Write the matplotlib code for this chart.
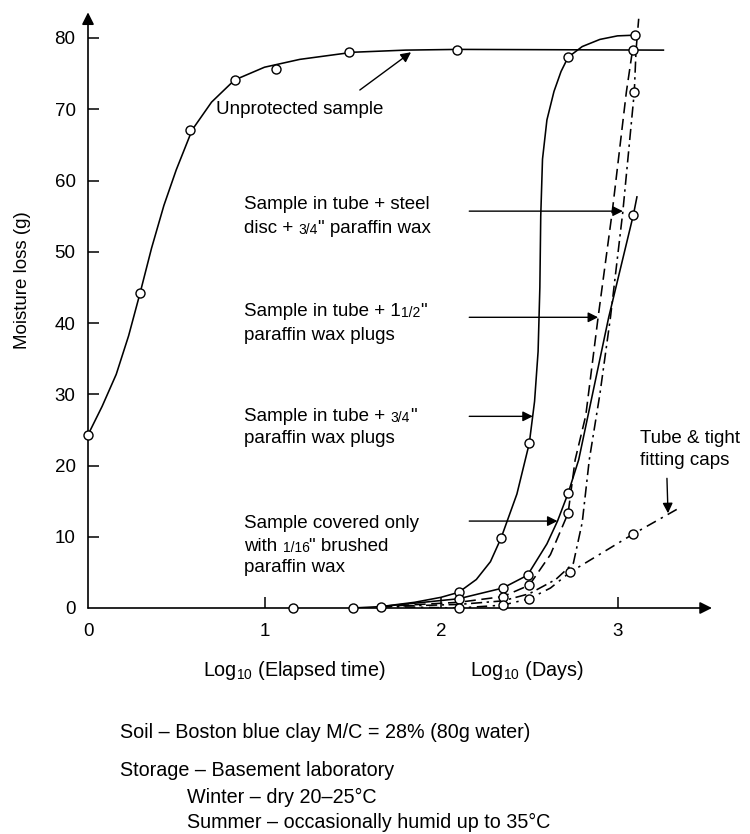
import matplotlib
matplotlib.use('Agg')
from matplotlib import pyplot as plt

plt.rcParams['font.family'] = ['Liberation Sans', 'DejaVu Sans']
plt.rcParams['mathtext.fontset'] = 'custom'
plt.rcParams['mathtext.rm'] = 'Liberation Sans'
plt.rcParams['mathtext.default'] = 'regular'

# Values: x = log10(days), y = moisture loss (g)
# curve paths and the plotted circles
unprot_x = [0, 0.08, 0.16, 0.23, 0.295, 0.36, 0.43, 0.5, 0.59, 0.7, 0.83, 1.0, 1.2, 1.5, 1.8, 2.1, 3.26]
unprot_y = [24.3, 28.3, 32.8, 38.2, 44.2, 50.5, 56.5, 61.5, 67.1, 71.0, 74.1, 75.9, 77.0, 78.0, 78.3, 78.4, 78.3]
unprot_px = [0, 0.295, 0.58, 0.83, 1.065, 1.48, 2.09]
unprot_py = [24.3, 44.2, 67.1, 74.1, 75.6, 78.0, 78.3]

shared_px = [1.16, 1.5, 1.66]
shared_py = [0, 0, 0.2]

# sample in tube + 3/4" paraffin wax plugs
plug34_x = [1.5, 1.66, 1.85, 2.0, 2.1, 2.2, 2.28, 2.34, 2.43, 2.5, 2.53, 2.55, 2.56, 2.565, 2.575, 2.6, 2.64, 2.68, 2.72, 2.8, 2.9, 3.0, 3.1]
plug34_y = [0, 0.2, 0.8, 1.5, 2.2, 4.0, 6.5, 9.8, 16.0, 23.1, 29.0, 36.0, 45.0, 55.0, 63.0, 68.5, 72.5, 75.3, 77.3, 78.8, 79.8, 80.3, 80.4]
plug34_px = [2.1, 2.34, 2.5, 2.72, 3.1]
plug34_py = [2.2, 9.8, 23.1, 77.3, 80.4]

# sample covered only with 1/16" brushed paraffin wax
brush_x = [1.66, 2.1, 2.35, 2.49, 2.6, 2.66, 2.72, 2.78, 2.95, 3.09, 3.11]
brush_y = [0.2, 1.3, 2.8, 4.6, 9.0, 12.2, 16.1, 20.8, 40.8, 55.2, 57.7]
brush_px = [2.1, 2.35, 2.49, 2.72, 3.09]
brush_py = [1.3, 2.8, 4.6, 16.1, 55.2]

# sample in tube + 1 1/2" paraffin wax plugs
plug112_x = [1.66, 2.1, 2.35, 2.5, 2.62, 2.72, 2.76, 2.82, 2.89, 2.97, 3.05, 3.085]
plug112_y = [0.2, 0.8, 1.6, 3.2, 7.5, 13.3, 20.8, 27.0, 40.8, 55.6, 72.4, 78.3]
plug112_px = [2.35, 2.5, 2.72, 3.085]
plug112_py = [1.6, 3.2, 13.3, 78.3]

# sample in tube + steel disc + 3/4" paraffin wax
disc_x = [1.66, 2.1, 2.35, 2.5, 2.65, 2.75, 2.8, 2.84, 2.9, 2.96, 3.03, 3.095, 3.105, 3.12]
disc_y = [0.2, 0.5, 1.0, 2.0, 4.0, 6.3, 12.0, 20.8, 30.0, 40.8, 55.6, 72.4, 78.3, 82.7]
disc_px = [3.095]
disc_py = [72.4]

# tube & tight fitting caps
caps_x = [1.66, 2.1, 2.35, 2.5, 2.62, 2.73, 3.09, 3.34]
caps_y = [0.2, 0.0, 0.4, 1.3, 2.8, 5.0, 10.4, 13.9]
caps_px = [2.1, 2.35, 2.5, 2.73, 3.09]
caps_py = [0.0, 0.4, 1.3, 5.0, 10.4]

fs = 13.5
fs_note = 14.2
lw = 1.15
mk = dict(marker='o', ls='none', ms=6.5, mfc='white', mec='black', mew=1.0, zorder=5, clip_on=False)

fig = plt.figure(figsize=(7.5, 8.34), dpi=100)
ax = fig.add_axes([88/750, 226/834, 626.6/750, 598.5/834])
ax.set_xlim(0, 3.55)
ax.set_ylim(0, 84)
for s in ax.spines.values():
    s.set_visible(False)

ax.plot(unprot_x, unprot_y, 'k-', lw=lw, clip_on=False)
ax.plot(plug34_x, plug34_y, 'k-', lw=lw)
ax.plot(brush_x, brush_y, 'k-', lw=lw)
ax.plot(plug112_x, plug112_y, 'k', lw=lw, dashes=(7, 3.5))
ax.plot(disc_x, disc_y, 'k', lw=lw, dashes=(7, 2.8, 1.5, 2.8), clip_on=False)
ax.plot(caps_x, caps_y, 'k', lw=lw, dashes=(6.5, 3.5, 1.5, 3.5))

for px, py in [(unprot_px, unprot_py), (shared_px, shared_py), (plug34_px, plug34_py),
               (brush_px, brush_py), (plug112_px, plug112_py), (disc_px, disc_py),
               (caps_px, caps_py)]:
    ax.plot(px, py, **mk)

# axes drawn as arrows
arr = dict(arrowstyle='-|>', mutation_scale=18, lw=1.2, color='k', shrinkA=0, shrinkB=0)
ax.annotate('', xy=(3.535, 0), xytext=(0, 0), arrowprops=arr, annotation_clip=False)
ax.annotate('', xy=(0, 83.6), xytext=(0, 0), arrowprops=arr, annotation_clip=False)

ax.set_xticks([0, 1, 2, 3])
ax.set_yticks(range(0, 81, 10))
ax.tick_params(direction='in', length=8, width=1.1, labelsize=fs)
ax.tick_params(axis='x', pad=11)
ax.tick_params(axis='y', pad=9)
ax.xaxis.get_major_ticks()[0].tick1line.set_visible(False)
ax.yaxis.get_major_ticks()[0].tick1line.set_visible(False)

fig.text(23/750, 1 - 280/834, 'Moisture loss (g)', rotation=90, ha='center', va='center', fontsize=fs)


def label(x, y, parts):
    t = ax.text(x, y, parts[0][0], fontsize=parts[0][1], va='baseline')
    for s, size in parts[1:]:
        t = ax.annotate(s, xy=(1, 0), xycoords=t, fontsize=size, va='bottom')


small = fs - 3.5
lx = 0.884
label(0.725, 69.3, [('Unprotected sample', fs)])
label(lx, 56.0, [('Sample in tube + steel', fs)])
label(lx, 52.6, [('disc + ', fs), ('3/4', small), ('" paraffin wax', fs)])
label(lx, 41.0, [('Sample in tube + 1', fs), ('1/2', small), ('"', fs)])
label(lx, 37.6, [('paraffin wax plugs', fs)])
label(lx, 26.3, [('Sample in tube + ', fs), ('3/4', small), ('"', fs)])
label(lx, 23.1, [('paraffin wax plugs', fs)])
label(lx, 11.2, [('Sample covered only', fs)])
label(lx, 8.0, [('with ', fs), ('1/16', small), ('" brushed', fs)])
label(lx, 5.0, [('paraffin wax', fs)])
label(3.127, 23.2, [('Tube & tight', fs)])
label(3.127, 20.1, [('fitting caps', fs)])

# pointer arrows from the labels to the curves
for (x0, y0, x1, y1) in [(2.16, 55.7, 3.03, 55.7), (2.16, 40.8, 2.89, 40.8),
                         (2.16, 26.9, 2.52, 26.9), (2.16, 12.2, 2.66, 12.2),
                         (1.54, 72.7, 1.83, 78.0), (3.28, 18.2, 3.286, 13.3)]:
    ax.annotate('', xy=(x1, y1), xytext=(x0, y0), annotation_clip=False,
                arrowprops=dict(arrowstyle='-|>', mutation_scale=15, lw=1.0, color='k',
                                shrinkA=0, shrinkB=0))

fig.text(203/750, 1 - 670/834, 'Log$_{10}$ (Elapsed time)', fontsize=fs_note, va='center')
fig.text(470/750, 1 - 670/834, 'Log$_{10}$ (Days)', fontsize=fs_note, va='center')
fig.text(120/750, 1 - 733/834, 'Soil \u2013 Boston blue clay M/C = 28% (80g water)', fontsize=fs_note, va='center')
fig.text(120/750, 1 - 770/834, 'Storage \u2013 Basement laboratory', fontsize=fs_note, va='center')
fig.text(187/750, 1 - 797/834, 'Winter \u2013 dry 20\u201325\u00b0C', fontsize=fs_note, va='center')
fig.text(187/750, 1 - 822/834, 'Summer \u2013 occasionally humid up to 35\u00b0C', fontsize=fs_note, va='center')

fig.savefig('out.png', dpi=100)
